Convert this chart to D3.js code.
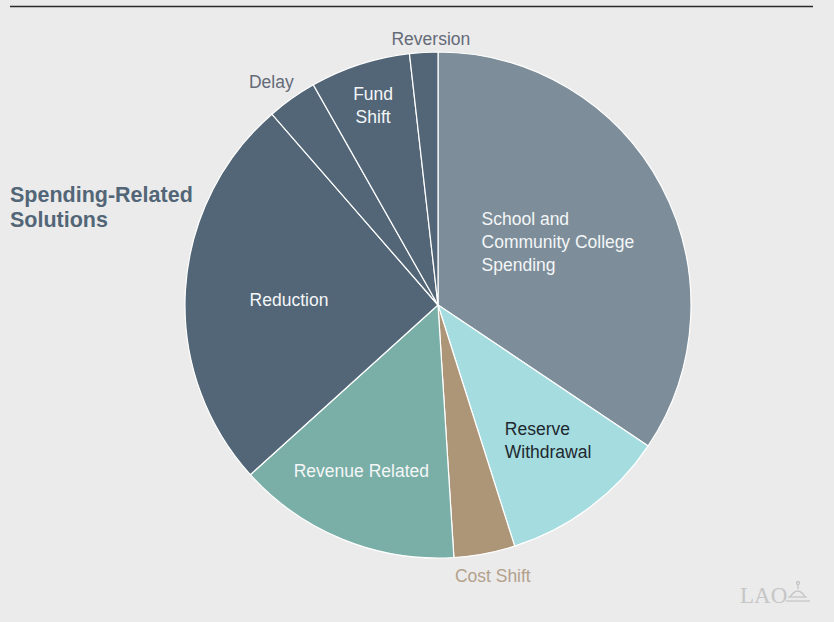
<!DOCTYPE html>
<html><head><meta charset="utf-8">
<script src="https://cdn.jsdelivr.net/npm/d3@7"></script>
<style>html,body{margin:0;padding:0;background:#ebebeb;}svg{display:block;}</style>
</head><body><svg id="c" width="834" height="622"></svg>
<script>
const categories = ["School and Community College Spending","Reserve Withdrawal","Cost Shift","Revenue Related","Reduction","Delay","Fund Shift","Reversion"];
const labelLines = [["School and","Community College","Spending"],["Reserve","Withdrawal"],["Cost Shift"],["Revenue Related"],["Reduction"],["Delay"],["Fund","Shift"],["Reversion"]];
const values = [34.4, 10.7, 3.9, 14.3, 25.3, 3.2, 6.4, 1.8];
const colors = ["#7d8e9a","#a4dcdf","#ad9578","#7aafa7","#526677","#526677","#526677","#526677"];
const textColors = ["#f4f6f7","#1e282e","#b3a18b","#f4f6f7","#f4f6f7","#646a78","#f4f6f7","#646a78"];
// label layout: radius ratio, anchor, offsets
const labelLayout = [
  {r:0.54, anchor:"start", dx:-77, dy:1},
  {r:0.69, anchor:"start", dx:-38, dy:-4},
  {r:1.09, anchor:"middle", dx:4, dy:0},
  {r:0.72, anchor:"middle", dx:-8, dy:-3},
  {r:0.59, anchor:"middle", dx:0, dy:4},
  {r:1.10, anchor:"middle", dx:-6, dy:4},
  {r:0.83, anchor:"middle", dx:0, dy:0},
  {r:1.06, anchor:"middle", dx:8, dy:2}
];
const svg = d3.select("#c");
svg.append("line").attr("x1",10).attr("x2",813).attr("y1",6.5).attr("y2",6.5).attr("stroke","#2a2a2a").attr("stroke-width",1.3);
const cx=438, cy=305, R=253;
const g = svg.append("g").attr("transform",`translate(${cx},${cy})`);
const pie = d3.pie().sort(null).value(d=>d)(values);
const arc = d3.arc().innerRadius(0).outerRadius(R);
g.selectAll("path").data(pie).join("path").attr("d",arc).attr("fill",(d,i)=>colors[i]).attr("stroke","#ffffff").attr("stroke-width",1.2);
const fs=17.5, lh=23;
pie.forEach((d,i)=>{
  const L=labelLayout[i];
  const a=(d.startAngle+d.endAngle)/2;
  const x=Math.sin(a)*R*L.r + L.dx, y=-Math.cos(a)*R*L.r + L.dy;
  const lines=labelLines[i];
  const t=g.append("text").attr("text-anchor",L.anchor).attr("font-family","Liberation Sans, Arial, sans-serif").attr("font-size",fs).attr("fill",textColors[i]);
  lines.forEach((s,k)=>{
    t.append("tspan").attr("x",x).attr("y",y+(k-(lines.length-1)/2)*lh).attr("dy","0.35em").text(s);
  });
});
const h = svg.append("text").attr("font-family","Liberation Sans, Arial, sans-serif").attr("font-weight","bold").attr("font-size",21.5).attr("fill","#526677");
h.append("tspan").attr("x",10).attr("y",202).text("Spending-Related");
h.append("tspan").attr("x",10).attr("y",227).text("Solutions");
svg.append("text").attr("x",740).attr("y",603).attr("font-family","Liberation Serif, serif").attr("font-size",23).attr("fill","#c6c6c6").text("LAO");
// small logo glyph
const lg = svg.append("g").attr("fill","none").attr("stroke","#c6c6c6").attr("stroke-width",1.3);
lg.append("path").attr("d","M786,601 L810,601");
lg.append("path").attr("d","M788,597 L807,597");
lg.append("path").attr("d","M790,597 Q798,585 805,597");
lg.append("path").attr("d","M798,589 L798,584");
lg.append("circle").attr("cx",798).attr("cy",583).attr("r",1.5);
</script></body></html>
